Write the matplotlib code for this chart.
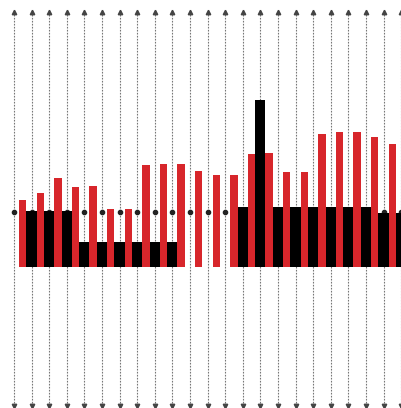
import numpy as np
import matplotlib
matplotlib.use("Agg")
import matplotlib.pyplot as plt

# black bars, one per vertical guide line (0 = no bar)
black_vals = [0, 5.6, 5.6, 5.6, 2.5, 2.5, 2.5, 2.5, 2.5, 2.5, 0, 0, 0,
              6.0, 16.7, 6.0, 6.0, 6.0, 6.0, 6.0, 6.0, 5.4, 5.4]
# red bars, one between each pair of guide lines
red_vals = [6.7, 7.4, 8.9, 8.0, 8.1, 5.8, 5.8, 10.2, 10.3, 10.3, 9.6,
            9.2, 9.2, 11.3, 11.4, 9.5, 9.5, 13.3, 13.5, 13.5, 13.0, 12.3]
ref_level = 5.5

n = len(black_vals)
x_line = np.arange(n)
x_mid = np.arange(len(red_vals)) + 0.5

fig = plt.figure(figsize=(4.02, 4.08), dpi=100)
ax = fig.add_axes([0, 0, 1, 1])

# dotted guide lines with arrow heads at both ends
top, bottom = 25.5, -13.9
ax.vlines(x_line, bottom, top, colors="#777777", linewidth=0.8,
          linestyles=(0, (1.5, 1.2)), zorder=1)
ax.plot(x_line, [top] * n, "^", color="#444444", markersize=3.2, zorder=1)
ax.plot(x_line, [bottom] * n, "v", color="#444444", markersize=3.2, zorder=1)
ax.plot(x_line, [ref_level] * n, "o", color="#222222", markersize=3, zorder=1)

ax.bar(x_line, black_vals, width=0.58, color="black", zorder=2)
ax.bar(x_mid, red_vals, width=0.42, color="#d7262b", zorder=3)

ax.set_xlim(-0.795, 22.05)
ax.set_ylim(-14.1, 26.7)
ax.axis("off")

fig.savefig("out.png", dpi=100)
